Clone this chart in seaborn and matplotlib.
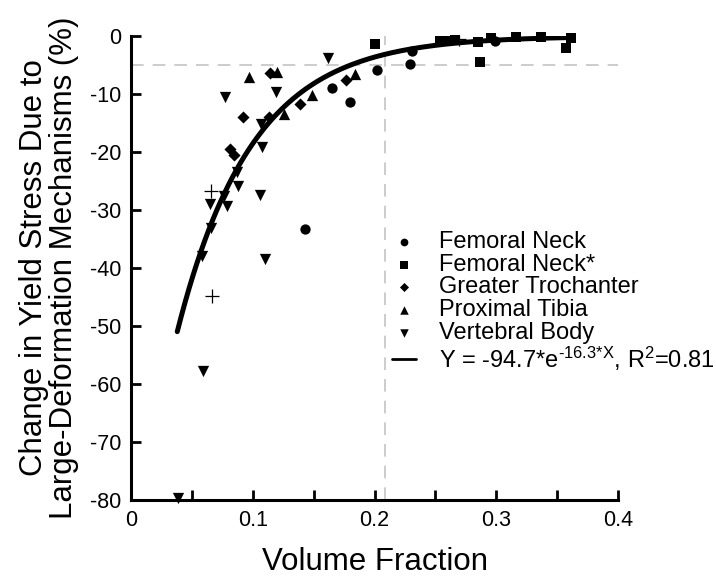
import numpy as np
import pandas as pd
import matplotlib
matplotlib.use("Agg")
import matplotlib.pyplot as plt
from matplotlib.ticker import MultipleLocator, FuncFormatter
from matplotlib.lines import Line2D
import seaborn as sns

# Volume fraction (x) and change in yield stress in % (y) for each anatomic site
fn_x = [0.143, 0.165, 0.180, 0.202, 0.229, 0.231, 0.299]
fn_y = [-33.3, -9.0, -11.3, -5.9, -4.9, -2.5, -0.8]

fn2_x = [0.200, 0.254, 0.259, 0.266, 0.285, 0.287, 0.296, 0.316, 0.337, 0.361, 0.357]
fn2_y = [-1.4, -0.9, -0.9, -0.7, -1.0, -4.4, -0.4, -0.1, -0.1, -0.4, -2.1]

gt_x = [0.114, 0.092, 0.113, 0.081, 0.085, 0.139, 0.177]
gt_y = [-6.3, -14.0, -13.9, -19.4, -20.5, -11.7, -7.6]

pt_x = [0.097, 0.120, 0.126, 0.149, 0.184]
pt_y = [-7.0, -6.2, -13.5, -10.2, -6.6]

vb_x = [0.162, 0.119, 0.077, 0.107, 0.108, 0.087, 0.0876, 0.076, 0.065, 0.079,
        0.106, 0.066, 0.058, 0.110, 0.059, 0.039]
vb_y = [-3.8, -9.6, -10.6, -15.1, -19.1, -23.4, -25.8, -27.6, -28.9, -29.3,
        -27.4, -33.1, -37.9, -38.5, -57.7, -79.7]

# extra specimens drawn with plain crosses (not in the key)
other_x = [0.0656, 0.0665, 0.269]
other_y = [-26.8, -44.9, -0.5]

# exponential fit Y = a * exp(b * X)
fit_a = -94.7
fit_b = -16.3
fit_r2 = 0.81
fit_range = (0.038, 0.36)

site_labels = ["Femoral Neck", "Femoral Neck*", "Greater Trochanter",
               "Proximal Tibia", "Vertebral Body"]

sns.set_style("ticks")
plt.rcParams["font.family"] = ["Liberation Sans", "DejaVu Sans"]
plt.rcParams["axes.unicode_minus"] = False
plt.rcParams["mathtext.fontset"] = "custom"
plt.rcParams["mathtext.rm"] = "Liberation Sans"
plt.rcParams["mathtext.it"] = "Liberation Sans"
for key in ("text.color", "axes.labelcolor", "xtick.color", "ytick.color",
            "axes.edgecolor"):
    plt.rcParams[key] = "black"

fig = plt.figure(figsize=(7.16, 5.83), dpi=100)
ax = fig.add_axes([131 / 716, 83 / 583, 487 / 716, 464 / 583])

# reference lines
ax.axhline(-5, color="#c8c8c8", lw=1.3, dashes=(7, 5), zorder=0)
ax.axvline(0.209, color="#c8c8c8", lw=1.3, dashes=(7, 5), zorder=0)

groups = [
    (fn_x, fn_y, "o", 55),
    (fn2_x, fn2_y, "s", 55),
    (gt_x, gt_y, "D", 38),
    (pt_x, pt_y, "^", 66),
    (vb_x, vb_y, "v", 66),
]
for (gx, gy, mk, size), lab in zip(groups, site_labels):
    df = pd.DataFrame({"x": gx, "y": gy})
    sns.scatterplot(data=df, x="x", y="y", marker=mk, s=size, color="black",
                    edgecolor="black", linewidth=0, label=lab, ax=ax,
                    clip_on=False, zorder=3)

sns.scatterplot(x=other_x, y=other_y, marker="+", s=110, color="black",
                linewidth=0.9, ax=ax, legend=False, zorder=3)

fit_x = np.linspace(fit_range[0], fit_range[1], 200)
fit_y = fit_a * np.exp(fit_b * fit_x)
fit_label = (f"Y = {fit_a}*e$^{{\\text{{{fit_b}*X}}}}$, "
             f"R$^{{\\text{{2}}}}$={fit_r2}")
sns.lineplot(x=fit_x, y=fit_y, color="black", lw=3.6, ax=ax,
             legend=False, zorder=4, sort=False)

ax.set_xlim(0, 0.4)
ax.set_ylim(-80, 0)
ax.xaxis.set_major_locator(MultipleLocator(0.1))
ax.xaxis.set_minor_locator(MultipleLocator(0.05))
ax.yaxis.set_major_locator(MultipleLocator(10))
ax.xaxis.set_major_formatter(FuncFormatter(lambda v, p: "0" if abs(v) < 1e-9 else f"{v:.1f}"))
ax.yaxis.set_major_formatter(FuncFormatter(lambda v, p: f"{v:.0f}"))

for side in ("top", "right"):
    ax.spines[side].set_visible(False)
for side in ("left", "bottom"):
    ax.spines[side].set_linewidth(2.2)
ax.tick_params(which="both", direction="in", length=7, width=2, labelsize=15.5,
               pad=7)

ax.set_xlabel("Volume Fraction", fontsize=22.5, labelpad=12)
ax.set_ylabel("Change in Yield Stress Due to\nLarge-Deformation Mechanisms (%)",
              fontsize=22.5, labelpad=8, linespacing=1.0)

handles, labels = ax.get_legend_handles_labels()
handles.append(Line2D([], [], color="black", lw=2.0))
labels.append(fit_label)
leg = ax.legend(handles, labels, loc="upper left",
                bbox_to_anchor=(392 / 716, (583 - 231) / 583),
                bbox_transform=fig.transFigure, frameon=False,
                fontsize=17, markerscale=0.75, handlelength=1.0,
                handletextpad=1.0, labelspacing=0.03, borderaxespad=0,
                borderpad=0)

fig.savefig("out.png", dpi=100)
